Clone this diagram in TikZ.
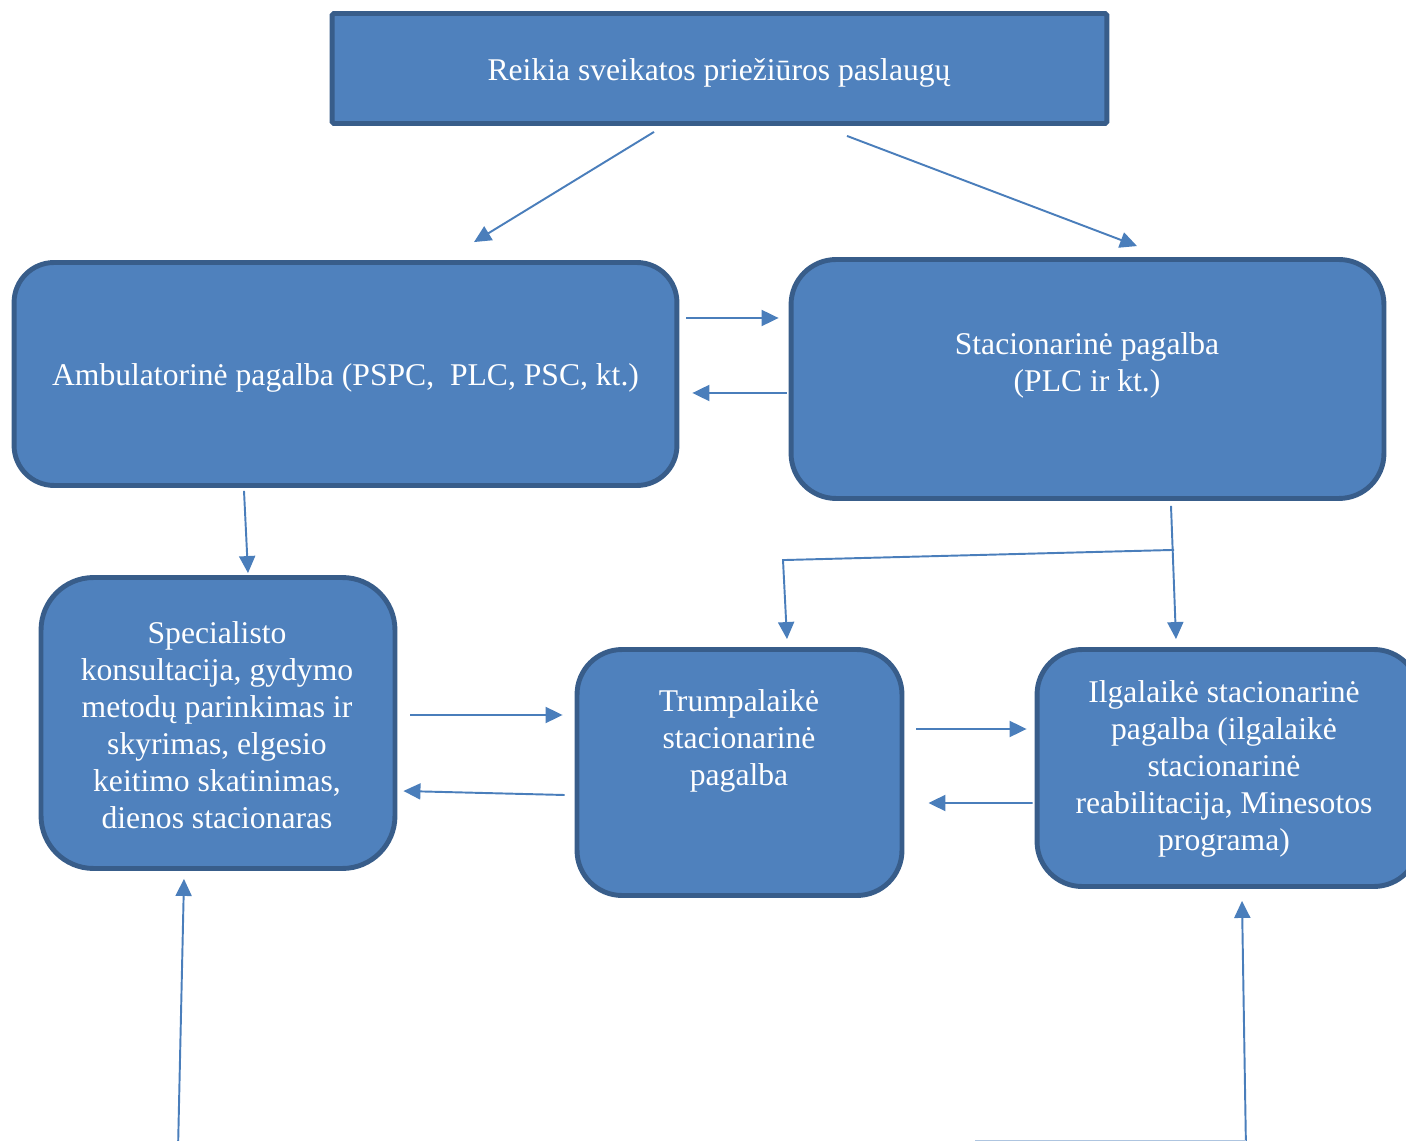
\documentclass[tikz,border=0pt]{standalone}
\usepackage{fontspec}
\setmainfont{Liberation Serif}
\usetikzlibrary{arrows.meta,positioning,calc}

\definecolor{boxfill}{HTML}{4F81BD}
\definecolor{boxline}{HTML}{385D8A}
\definecolor{arrowblue}{HTML}{4A7EBB}

\begin{document}
\begin{tikzpicture}[
    x=0.02cm, y=-0.02cm,
    font=\fontsize{18}{21}\selectfont,
    box/.style={draw=boxline, line width=2.8pt, fill=boxfill, inner sep=0pt, rounded corners=1pt},
    rbox/.style={box, rounded corners=0.8cm},
    txt/.style={text=white, align=center, inner sep=0pt},
    arrow/.style={-{Triangle[length=0.34cm, width=0.32cm]}, draw=arrowblue, line width=1.1pt},
    link/.style={draw=arrowblue!45, line width=1.1pt}
]
\useasboundingbox (0,0) rectangle (1406,1141);
\clip (0,0) rectangle (1406,1141);

% boxes
\node[box, minimum width=15.5cm, minimum height=2.2cm] (need) at (719.5,68.5) {};
\node[txt] (needtxt) at (719,73) {Reikia sveikatos priežiūros paslaugų};

\node[rbox, minimum width=13.26cm, minimum height=4.46cm] (amb) at (345.5,374) {};
\node[txt] (ambtxt) at (345.5,378) {Ambulatorinė pagalba (PSPC,~ PLC, PSC, kt.)};

\node[rbox, minimum width=11.86cm, minimum height=4.78cm, rounded corners=0.9cm] (stac) at (1087.5,379) {};
\node[txt] (stactxt) at (1087,365) {Stacionarinė pagalba\\(PLC ir kt.)};

\node[rbox, minimum width=7.08cm, minimum height=5.82cm, rounded corners=1.05cm] (spec) at (218,723) {};
\node[txt] (spectxt) at (217,725)
{Specialisto\\konsultacija, gydymo\\metodų parinkimas ir\\skyrimas, elgesio\\keitimo skatinimas,\\dienos stacionaras};

\node[rbox, minimum width=6.5cm, minimum height=4.92cm, rounded corners=0.9cm] (trump) at (739.5,772.5) {};
\node[txt] (trumptxt) at (739,741) {Trumpalaikė\\stacionarinė\\pagalba};

\node[rbox, minimum width=7.64cm, minimum height=4.74cm, rounded corners=0.9cm] (ilg) at (1228,768) {};
\node[txt] (ilgtxt) at (1224,769) {Ilgalaikė stacionarinė\\pagalba (ilgalaikė\\stacionarinė\\reabilitacija, Minesotos\\programa)};

% connectors
\draw[arrow] ($(need.south)+(-65.5,6)$) -- ($(amb.north)+(128.5,-18)$);
\draw[arrow] ($(need.south)+(127.5,10)$) -- ($(stac.north)+(49.5,-11)$);

\draw[arrow] ($(amb.east)+(7,-56)$) -- ($(stac.west)+(-10,-61)$);
\draw[arrow] ($(stac.west)+(-2,14)$) -- ($(amb.east)+(13,19)$);

\draw[arrow] ($(amb.south)+(-101.5,3)$) -- ($(spec.north)+(30,-2)$);

\coordinate (fork) at ($(stac.south)+(86.5,49)$);
\coordinate (bend) at ($(trump.north)+(43.5,-87)$);
\draw[arrow] ($(stac.south)+(83.5,5)$) -- ($(ilg.north)+(-52,-8)$);
\draw[arrow] (fork) -- (bend) -- ($(trump.north)+(47.5,-8)$);

\draw[arrow] ($(spec.east)+(13,-8)$) -- ($(trump.west)+(-12,-57.5)$);
\draw[arrow] ($(trump.west)+(-10,22.5)$) -- ($(spec.east)+(6,68)$);

\draw[arrow] ($(trump.east)+(12,-43.5)$) -- ($(ilg.west)+(-8,-39)$);
\draw[arrow] ($(ilg.west)+(-2,35)$) -- ($(trump.east)+(24,30.5)$);

\coordinate (inleft) at (178,1150);
\coordinate (inright) at (1246,1141);
\coordinate (inrightend) at (975,1141);
\draw[arrow] (inleft) -- ($(spec.south)+(-34,8)$);
\draw[arrow] ($(inright)+(0,9)$) -- ($(ilg.south)+(14,12)$);
\draw[link] (inrightend) -- (inright);

\end{tikzpicture}
\end{document}
